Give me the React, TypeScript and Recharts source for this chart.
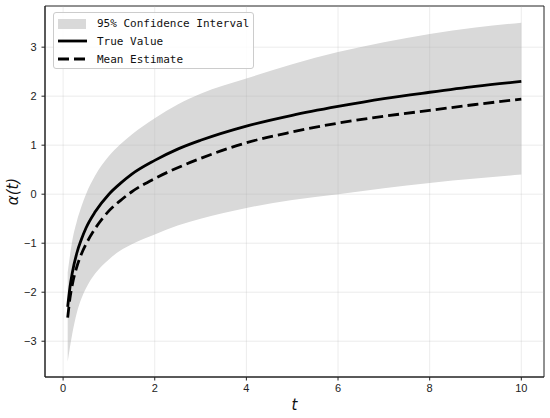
import React from 'react';
import {
  ComposedChart,
  Area,
  Line,
  XAxis,
  YAxis,
  ReferenceLine,
  ReferenceArea,
  Legend,
} from 'recharts';

// time points t
const tValues = [0.1, 0.15, 0.2, 0.3, 0.4, 0.5, 0.7, 1, 1.25, 1.5, 2, 2.5, 3, 4, 5, 6, 7, 8, 9, 10];
// true value α(t)
const trueValues = [-2.3, -1.9, -1.61, -1.2, -0.92, -0.69, -0.36, 0.0, 0.22, 0.41, 0.69, 0.92, 1.1, 1.39, 1.61, 1.79, 1.95, 2.08, 2.2, 2.3];
// mean estimate
const meanValues = [-2.52, -2.12, -1.85, -1.48, -1.22, -1.02, -0.7, -0.34, -0.13, 0.05, 0.32, 0.54, 0.73, 1.05, 1.27, 1.45, 1.59, 1.71, 1.83, 1.94];
// 95% CI bounds
const lowerValues = [-3.42, -3.12, -2.85, -2.42, -2.13, -1.92, -1.62, -1.33, -1.15, -1.02, -0.82, -0.64, -0.5, -0.28, -0.12, 0.0, 0.12, 0.23, 0.32, 0.4];
const upperValues = [-1.6, -1.25, -0.95, -0.55, -0.25, 0.0, 0.38, 0.78, 1.02, 1.22, 1.55, 1.83, 2.05, 2.36, 2.65, 2.9, 3.1, 3.27, 3.4, 3.5];

const xTicks = [0, 2, 4, 6, 8, 10];
const yTicks = [-3, -2, -1, 0, 1, 2, 3];
const xDomain: [number, number] = [-0.395, 10.495];
const yDomain: [number, number] = [-3.73, 3.84];

const legendLabels = ['95% Confidence Interval', 'True Value', 'Mean Estimate'];

const data = tValues.map((t, i) => ({
  t,
  trueVal: trueValues[i],
  mean: meanValues[i],
  band: [lowerValues[i], upperValues[i]],
}));

const fmt = (v: number) => (v < 0 ? `\u2212${Math.abs(v)}` : `${v}`);

const tickFont = { fontFamily: 'Liberation Sans, Arial, sans-serif', fontSize: 11, fill: '#222' };
const gridStroke = 'rgba(176,176,176,0.3)';

const LegendBox = () => (
  <div
    style={{
      border: '1px solid #cccccc',
      borderRadius: 3,
      background: 'rgba(255,255,255,0.85)',
      width: 201,
      height: 57,
      boxSizing: 'border-box',
      position: 'relative',
    }}
  >
    <svg width={201} height={57} style={{ position: 'absolute', left: 0, top: 0 }}>
      <rect x={4} y={6} width={28} height={10} fill="#d9d9d9" />
      <line x1={4} x2={33} y1={28} y2={28} stroke="#000" strokeWidth={2.8} />
      <line x1={4} x2={33} y1={46} y2={46} stroke="#000" strokeWidth={2.8} strokeDasharray="11 5" />
      {legendLabels.map((l, i) => (
        <text
          key={l}
          x={43}
          y={[11, 29, 47][i]}
          dominantBaseline="middle"
          fontFamily='"DejaVu Sans Mono", monospace'
          fontSize={11}
          fill="#111"
        >
          {l}
        </text>
      ))}
    </svg>
  </div>
);

export default function App() {
  return (
    <div style={{ position: 'absolute', left: 0, top: 0, width: 550, height: 418, background: '#fff' }}>
      <ComposedChart
        width={550}
        height={418}
        data={data}
        margin={{ top: 6, right: 6, left: 0, bottom: 0 }}
      >
        <XAxis
          dataKey="t"
          type="number"
          domain={xDomain}
          ticks={xTicks}
          allowDataOverflow
          height={41}
          tickSize={3.5}
          tickMargin={4}
          tick={tickFont}
          axisLine={{ stroke: '#222', strokeWidth: 1 }}
          tickLine={{ stroke: '#222' }}
          label={(props: any) => {
            const vb = props.viewBox;
            return (
              <text
                x={vb.x + vb.width / 2}
                y={vb.y + 33}
                textAnchor="middle"
                fontFamily="DejaVu Sans, sans-serif"
                fontStyle="italic"
                fontSize={15}
                fill="#111"
              >
                t
              </text>
            );
          }}
        />
        <YAxis
          type="number"
          domain={yDomain}
          ticks={yTicks}
          allowDataOverflow
          width={45}
          tickSize={3.5}
          tickMargin={5}
          tick={tickFont}
          tickFormatter={fmt}
          axisLine={{ stroke: '#222', strokeWidth: 1 }}
          tickLine={{ stroke: '#222' }}
          label={(props: any) => {
            const vb = props.viewBox;
            const cy = vb.y + vb.height / 2;
            return (
              <text
                x={18}
                y={cy}
                transform={`rotate(-90, 18, ${cy})`}
                textAnchor="middle"
                fontFamily="DejaVu Sans, sans-serif"
                fontStyle="italic"
                fontSize={15}
                fill="#111"
              >
                α(t)
              </text>
            );
          }}
        />
        <Area
          dataKey="band"
          type="monotone"
          fill="#d9d9d9"
          fillOpacity={1}
          stroke="none"
          isAnimationActive={false}
          activeDot={false}
        />
        {xTicks.map((v) => (
          <ReferenceLine key={`x${v}`} x={v} stroke={gridStroke} strokeWidth={0.8} />
        ))}
        {yTicks.map((v) => (
          <ReferenceLine key={`y${v}`} y={v} stroke={gridStroke} strokeWidth={0.8} />
        ))}
        <Line
          dataKey="trueVal"
          type="monotone"
          stroke="#000"
          strokeWidth={2.8}
          dot={false}
          isAnimationActive={false}
        />
        <Line
          dataKey="mean"
          type="monotone"
          stroke="#000"
          strokeWidth={2.8}
          strokeDasharray="11 5"
          dot={false}
          isAnimationActive={false}
        />
        <ReferenceArea
          x1={xDomain[0]}
          x2={xDomain[1]}
          y1={yDomain[0]}
          y2={yDomain[1]}
          fill="none"
          fillOpacity={0}
          stroke="#222"
          strokeWidth={1}
        />
        <Legend
          layout="horizontal"
          verticalAlign="middle"
          align="center"
          wrapperStyle={{ left: 53, top: 12, width: 201, height: 57 }}
          content={() => <LegendBox />}
        />
      </ComposedChart>
    </div>
  );
}
